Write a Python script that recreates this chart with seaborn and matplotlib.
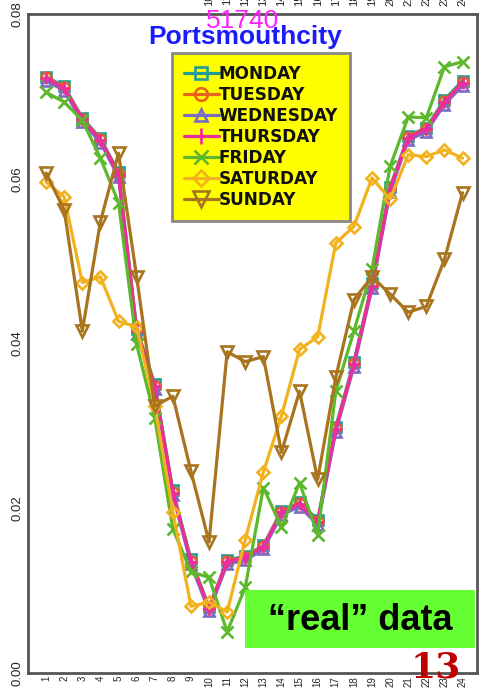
import matplotlib
matplotlib.use("Agg")
import matplotlib.pyplot as plt
import matplotlib.transforms as mtransforms
import seaborn as sns

sns.set_theme(style="white")
plt.rcParams["font.family"] = ["Liberation Sans", "DejaVu Sans"]

# Hourly share of daily traffic, per weekday
hours = list(range(1, 25))
monday = [0.0724, 0.0712, 0.0674, 0.0649, 0.0608, 0.0418, 0.0351, 0.0222, 0.0138, 0.0080, 0.0137, 0.0142,
          0.0155, 0.0197, 0.0207, 0.0186, 0.0299, 0.0378, 0.0473, 0.0590, 0.0652, 0.0662, 0.0696, 0.0719]
tuesday = [0.0723, 0.0711, 0.0673, 0.0648, 0.0606, 0.0417, 0.0349, 0.0220, 0.0136, 0.0079, 0.0136, 0.0141,
           0.0154, 0.0196, 0.0206, 0.0184, 0.0297, 0.0376, 0.0471, 0.0588, 0.0651, 0.0661, 0.0694, 0.0717]
wednesday = [0.0719, 0.0707, 0.0669, 0.0644, 0.0602, 0.0412, 0.0345, 0.0216, 0.0132, 0.0075, 0.0132, 0.0137,
             0.0150, 0.0192, 0.0202, 0.0180, 0.0293, 0.0372, 0.0467, 0.0584, 0.0647, 0.0657, 0.0690, 0.0713]
thursday = [0.0722, 0.0710, 0.0672, 0.0647, 0.0605, 0.0415, 0.0348, 0.0219, 0.0135, 0.0078, 0.0135, 0.0140,
            0.0153, 0.0195, 0.0205, 0.0183, 0.0296, 0.0375, 0.0470, 0.0587, 0.0650, 0.0660, 0.0693, 0.0716]
friday = [0.0705, 0.0693, 0.0671, 0.0625, 0.0571, 0.0399, 0.0310, 0.0175, 0.0123, 0.0116, 0.0050, 0.0104,
          0.0225, 0.0177, 0.0231, 0.0168, 0.0342, 0.0415, 0.0490, 0.0615, 0.0675, 0.0674, 0.0736, 0.0742]
saturday = [0.0596, 0.0578, 0.0474, 0.0481, 0.0427, 0.0420, 0.0324, 0.0196, 0.0081, 0.0086, 0.0074, 0.0162,
            0.0244, 0.0312, 0.0393, 0.0408, 0.0522, 0.0542, 0.0601, 0.0575, 0.0629, 0.0627, 0.0635, 0.0625]
sunday = [0.0607, 0.0562, 0.0415, 0.0548, 0.0631, 0.0481, 0.0324, 0.0336, 0.0245, 0.0159, 0.0390, 0.0378,
          0.0384, 0.0268, 0.0342, 0.0235, 0.0359, 0.0453, 0.0481, 0.0460, 0.0438, 0.0445, 0.0502, 0.0583]

day_names = ["MONDAY", "TUESDAY", "WEDNESDAY", "THURSDAY", "FRIDAY", "SATURDAY", "SUNDAY"]
day_values = [monday, tuesday, wednesday, thursday, friday, saturday, sunday]
day_colors = ["#1f9e94", "#e8641c", "#7a6cc4", "#ee2c9c", "#5cb82c", "#f2b21e", "#a8741e"]
day_markers = ["s", "o", "^", "+", "x", "D", "v"]
day_msizes = [7, 7, 7, 9, 8, 6.5, 9]

y_ticks = [0.00, 0.02, 0.04, 0.06, 0.08]

fig = plt.figure(figsize=(4.80, 6.91), dpi=100)
ax = fig.add_axes([28 / 480, 1 - 673 / 691, 449 / 480, 659 / 691])

for name, vals, col, mk, ms in zip(day_names, day_values, day_colors, day_markers, day_msizes):
    sns.lineplot(x=hours, y=vals, ax=ax, color=col, marker=mk, markersize=ms,
                 markerfacecolor="none", markeredgecolor=col, markeredgewidth=1.9,
                 linewidth=2.3, label=name)

ax.set_xlim(0, 24.8)
ax.set_ylim(0, 0.08)
ax.set_xticks(hours)
ax.set_xticklabels([str(h) for h in hours], rotation=90, fontsize=7)
ax.set_yticks(y_ticks)
ax.set_yticklabels([f"{v:.2f}" for v in y_ticks], rotation=90, va="center", fontsize=9.5)
ax.tick_params(axis="x", direction="in", length=7, width=1.2, color="#333333", pad=2)
ax.tick_params(axis="y", direction="in", length=11, width=1.2, color="#333333", pad=3)
for sp in ax.spines.values():
    sp.set_color("#555555")
    sp.set_linewidth(2)

# hour labels along the top edge, mostly running off the figure
top_tr = mtransforms.offset_copy(ax.get_xaxis_transform(), fig=fig, x=0, y=15, units="points")
for h in hours:
    ax.text(h, 1.0, str(h), transform=top_tr, rotation=90, ha="center", va="top",
            fontsize=8, color="#222222", clip_on=False)

ax.text(0.479, 0.989, "51740", transform=ax.transAxes, ha="center", va="center",
        fontsize=19, color="#ff22ff")
ax.text(0.483, 0.965, "Portsmouthcity", transform=ax.transAxes, ha="center", va="center",
        fontsize=19, fontweight="bold", color="#1a1aff")

leg = ax.legend(loc="upper left", bbox_to_anchor=((172 - 28) / 449, (673 - 53) / 659),
                frameon=True, fancybox=False, facecolor="#ffff00", edgecolor="#888888",
                framealpha=1, borderpad=0.7, labelspacing=0.18, handlelength=2.05,
                handletextpad=0.0, borderaxespad=0, markerscale=1.3,
                prop={"family": "DejaVu Sans", "weight": "bold", "size": 12.2})
leg.get_frame().set_linewidth(2)
for t in leg.get_texts():
    t.set_color("#111111")

# caption box in the lower right
fig.patches.append(plt.Rectangle((245 / 480, 1 - 648 / 691), 230 / 480, 58 / 691,
                                 transform=fig.transFigure, facecolor="#66ff33",
                                 edgecolor="none", zorder=5))
fig.text(360 / 480, 1 - 621 / 691, "\u201creal\u201d data", ha="center", va="center",
         fontsize=26, fontweight="bold", color="black", zorder=6)
fig.text(436 / 480, 1 - 668 / 691, "13", ha="center", va="center",
         fontsize=26, fontweight="bold", family="DejaVu Serif", color="#c00000", zorder=6)

fig.savefig("out.png", dpi=100)
